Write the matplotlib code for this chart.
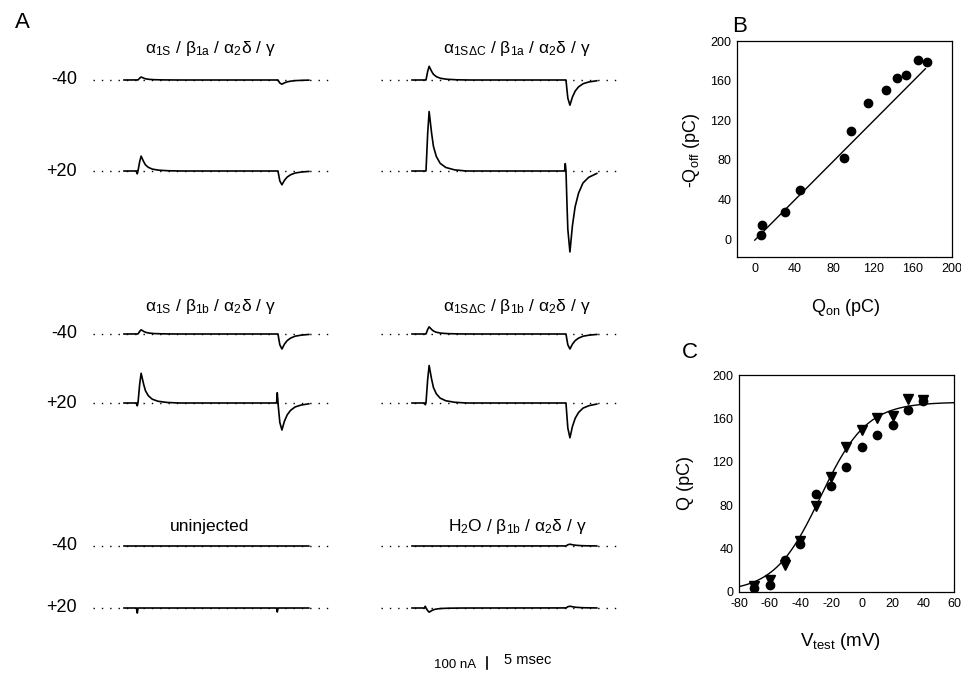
import numpy as np
import matplotlib.pyplot as plt

plt.rcParams['font.family'] = ['Liberation Sans', 'DejaVu Sans']
plt.rcParams['mathtext.default'] = 'regular'
plt.rcParams['axes.unicode_minus'] = False

# ---------------------- Panel A data ----------------------
# pulse timing (ms, from start of the solid trace)
t_on = 2.5
t_off = 27.5
t_end = 33.0
t_dot = [-5.5, 37.5]

# normalised transient shapes
on_t = [0, 0.25, 0.55, 0.9, 1.3, 1.8, 2.5, 3.5, 5.0, 7.0]
on_v = [0, 0.55, 1.0, 0.7, 0.42, 0.25, 0.13, 0.06, 0.02, 0]
off_t = [0, 0.3, 0.7, 1.1, 1.6, 2.2, 3.0, 4.0, 5.5, 8.0]
off_v = [0, 0.7, 1.0, 0.7, 0.45, 0.28, 0.15, 0.08, 0.03, 0]
art_t = [0, 0.12, 0.25]
art_v = [0, 1, 0]

titles = [
    r'$\alpha_{1S}$ / $\beta_{1a}$ / $\alpha_2\delta$ / $\gamma$',
    r'$\alpha_{1S\Delta C}$ / $\beta_{1a}$ / $\alpha_2\delta$ / $\gamma$',
    r'$\alpha_{1S}$ / $\beta_{1b}$ / $\alpha_2\delta$ / $\gamma$',
    r'$\alpha_{1S\Delta C}$ / $\beta_{1b}$ / $\alpha_2\delta$ / $\gamma$',
    'uninjected',
    r'$H_2O$ / $\beta_{1b}$ / $\alpha_2\delta$ / $\gamma$',
]
row_labels = ['-40', '+20']

# peak currents (nA) for each panel: [-40 trace, +20 trace]
on_amp = [[25, 125], [115, 500], [35, 250], [60, 315], [0, 0], [0, -35]]
off_amp = [[-35, -115], [-210, -675], [-125, -225], [-125, -290], [0, 0], [15, 15]]
art_on = [[0, -25], [0, 0], [0, -25], [0, -15], [0, -45], [0, 15]]
art_off = [[0, 0], [0, 65], [0, 90], [0, 0], [0, -35], [0, 0]]

# ---------------------- Panel B data ----------------------
q_on = [6.7, 7.7, 30.6, 45.4, 91, 98, 115, 133.4, 144, 153, 166, 175]
q_off = [4, 14, 27.6, 49.4, 82, 109, 137.5, 151, 163, 166, 181, 178.5]
fit_slope = 1.0
fit_icpt = -1.0
fit_x = [0, 173]

# ---------------------- Panel C data ----------------------
v_test = [-70, -60, -50, -40, -30, -20, -10, 0, 10, 20, 30, 40]
q_circ = [4, 6.5, 29.6, 44, 90, 97.5, 115, 134, 145, 154, 168, 176]
q_tri = [5.5, 11, 25, 47, 79, 106, 134, 149, 160, 162, 178, 177]
q_max = 175
v_half = -27
k_slope = 15

# ---------------------- Figure ----------------------
W, H = 962, 675
fig = plt.figure(figsize=(W / 100, H / 100), dpi=100)

axA = fig.add_axes([0, 0, 1, 1])
axA.set_xlim(0, W)
axA.set_ylim(H, 0)
axA.axis('off')

col_x0 = [124, 412]
title_x = [210, 517]
group_y = [(80, 171), (334, 403), (546, 608)]
title_y = [49, 307, 527]
px_ms = 5.6
px_nA = 0.12

t = np.linspace(0, t_end, 1500)
for i in range(6):
    g, c = i // 2, i % 2
    x0 = col_x0[c]
    axA.text(title_x[c], title_y[g], titles[i], ha='center', va='center', fontsize=12.5)
    for r in range(2):
        y0 = group_y[g][r]
        cur = (on_amp[i][r] * np.interp(t - t_on, on_t, on_v, left=0, right=0)
               + off_amp[i][r] * np.interp(t - t_off, off_t, off_v, left=0, right=0)
               + art_on[i][r] * np.interp(t - (t_on - 0.25), art_t, art_v, left=0, right=0)
               + art_off[i][r] * np.interp(t - (t_off - 0.25), art_t, art_v, left=0, right=0))
        axA.plot([x0 + t_dot[0] * px_ms, x0 + t_dot[1] * px_ms], [y0, y0],
                 color='k', lw=1.0, dashes=(1, 5))
        axA.plot(x0 + t * px_ms, y0 - cur * px_nA, color='k', lw=1.2)
        if c == 0:
            axA.text(77, y0, row_labels[r], ha='right', va='center', fontsize=13)

axA.text(22, 22, 'A', ha='center', va='center', fontsize=16)

# scale bar
axA.text(455, 665, '100 nA', ha='center', va='center', fontsize=9.5)
axA.plot([487, 487], [657, 657 + 100 * px_nA], color='k', lw=1.2)
axA.text(528, 660, '5 msec', ha='center', va='center', fontsize=10.5)

# ---------------------- Panel B ----------------------
axB = fig.add_axes([737 / W, (H - 257) / H, 215 / W, 216 / H])
axB.plot(q_on, q_off, 'o', color='k', ms=6)
fx = np.array(fit_x)
axB.plot(fx, fit_slope * fx + fit_icpt, color='k', lw=1.0)
axB.set_xlim(-18, 200)
axB.set_ylim(-18, 200)
axB.set_xticks([0, 40, 80, 120, 160, 200])
axB.set_yticks([0, 40, 80, 120, 160, 200])
axB.tick_params(length=0, labelsize=9, pad=4)
fig.text(692 / W, 1 - 150 / H, r'-Q$_{off}$ (pC)', rotation=90, ha='center', va='center', fontsize=13)
fig.text(846 / W, 1 - 307 / H, r'Q$_{on}$ (pC)', ha='center', va='center', fontsize=13)
fig.text(740 / W, 1 - 27 / H, 'B', ha='center', va='center', fontsize=16)

# ---------------------- Panel C ----------------------
axC = fig.add_axes([739 / W, (H - 592) / H, 215 / W, 217 / H])
vv = np.linspace(-80, 60, 300)
axC.plot(vv, q_max / (1 + np.exp((v_half - vv) / k_slope)), color='k', lw=1.0)
axC.plot(v_test, q_circ, 'o', color='k', ms=6)
axC.plot(v_test, q_tri, 'v', color='k', ms=6.5)
axC.set_xlim(-80, 60)
axC.set_ylim(0, 200)
axC.set_xticks([-80, -60, -40, -20, 0, 20, 40, 60])
axC.set_yticks([0, 40, 80, 120, 160, 200])
axC.tick_params(length=0, labelsize=9, pad=4)
fig.text(686 / W, 1 - 483 / H, 'Q (pC)', rotation=90, ha='center', va='center', fontsize=13)
fig.text(841 / W, 1 - 642 / H, r'V$_{test}$ (mV)', ha='center', va='center', fontsize=13.5)
fig.text(690 / W, 1 - 353 / H, 'C', ha='center', va='center', fontsize=16)

for ax in (axB, axC):
    for s in ax.spines.values():
        s.set_linewidth(0.9)

plt.savefig('out.png', dpi=100)
plt.close()
